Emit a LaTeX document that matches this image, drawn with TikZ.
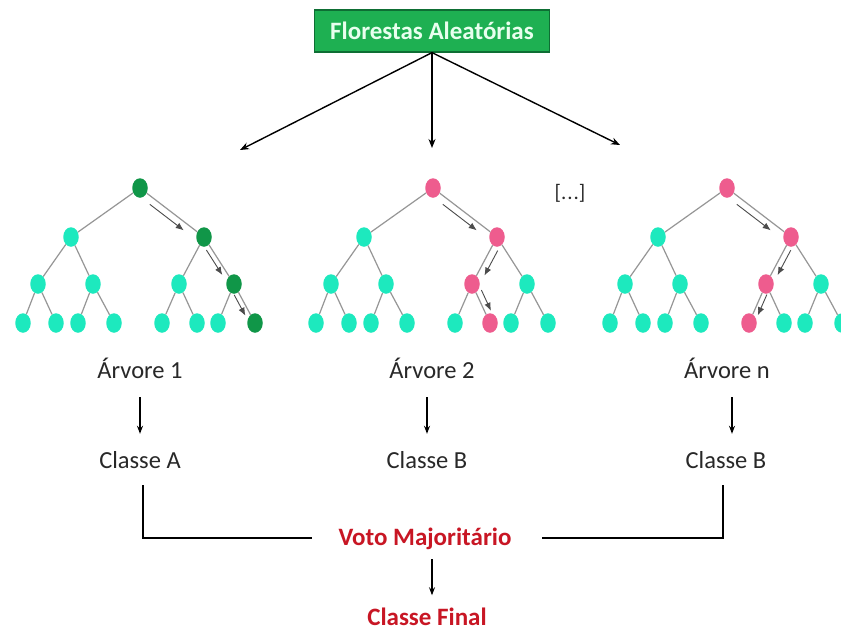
\documentclass[tikz,border=0pt]{standalone}
\usepackage{fontspec}
\setmainfont{Carlito}
\usetikzlibrary{shapes.geometric,arrows.meta,calc}
\definecolor{cy}{RGB}{29,233,190}
\definecolor{dg}{RGB}{16,150,72}
\definecolor{pk}{RGB}{238,92,142}
\definecolor{edgegray}{RGB}{150,150,150}
\definecolor{boxgreen}{RGB}{30,176,82}
\definecolor{boxborder}{RGB}{14,110,52}
\definecolor{vred}{RGB}{200,22,36}
\definecolor{txt}{RGB}{40,40,40}
\definecolor{titletxt}{RGB}{232,255,238}

\newcommand\rftree[5]{% #1 prefix, #2 root x, #3 path colour, #4 level-2 path node, #5 leaf path node
  \begin{scope}[xshift=#2pt, tk-r/.style={fill=#3}, tk-b/.style={fill=#3}, tk-#4/.style={fill=#3}, tk-#5/.style={fill=#3}]
    \foreach \n/\dx/\yy in {r/0/188,a/-69/237,b/64/237,c/-102/284,d/-47/284,e/39/284,f/94/284,
      g/-117/323,h/-84/323,i/-62/323,j/-26/323,k/22/323,l/57/323,m/78/323,n/115/323}
      \node[tn, tk-\n] (#1\n) at (\dx,\yy) {};
  \end{scope}
  \foreach \p/\q in {r/a,r/b,a/c,a/d,b/e,b/f,c/g,c/h,d/i,d/j,e/k,e/l,f/m,f/n}
    \draw[edge] (#1\p) -- (#1\q);
}
\newcommand\parr[4]{% from node, to node, side angle, offset
  \draw[patharrow] ($(#1)!0.22!(#2)!#4!#3:(#2)$) -- ($(#1)!0.75!(#2)!#4!#3:(#2)$);
}

\begin{document}
\begin{tikzpicture}[x=1pt,y=-1pt,
  tn/.style={ellipse, draw=none, fill=cy, minimum width=15.5pt, minimum height=19.5pt, inner sep=0pt},
  tk-r/.style={}, tk-a/.style={}, tk-b/.style={}, tk-c/.style={}, tk-d/.style={},
  tk-e/.style={}, tk-f/.style={}, tk-g/.style={}, tk-h/.style={}, tk-i/.style={},
  tk-j/.style={}, tk-k/.style={}, tk-l/.style={}, tk-m/.style={}, tk-n/.style={},
  edge/.style={draw=edgegray, line width=1.2pt},
  patharrow/.style={draw=black!70, line width=0.9pt, -{Latex[length=8pt,width=6.5pt]}},
  lab/.style={font=\fontsize{24.5}{28}\selectfont, text=txt, anchor=base, inner sep=0pt},
  vote/.style={font=\fontsize{25}{29}\selectfont\bfseries, text=vred, anchor=base, inner sep=0pt},
  titlebox/.style={draw=boxborder, line width=1.2pt, fill=boxgreen, text=titletxt,
    font=\fontsize{25}{29}\selectfont\bfseries, minimum width=235pt, minimum height=42pt, inner sep=0pt},
  mainarrow/.style={draw=black, line width=1.4pt, -{Stealth[length=9pt,width=7pt]}},
  downarrow/.style={draw=black, line width=1.2pt, -{Stealth[length=8pt,width=6pt]}},
  bracket/.style={draw=black, line width=2pt}
]
\fill[white] (0,0) rectangle (841,630);
\clip (0,0) rectangle (841,630);

% title and top arrows
\node[titlebox] (title) at (432,31) {Florestas Aleatórias};
\coordinate (e1) at (240,150);
\coordinate (e2) at (432,148);
\coordinate (e3) at (620,145);
\draw[mainarrow] (title.south) -- (e1);
\draw[mainarrow] (title.south) -- (e2);
\draw[mainarrow] (title.south) -- (e3);

% trees
\rftree{t1}{140}{dg}{f}{n}
\rftree{t2}{433}{pk}{e}{l}
\rftree{t3}{727}{pk}{e}{k}

\parr{t1r}{t1b}{-90}{7pt}
\parr{t1b}{t1f}{-90}{5pt}
\parr{t1f}{t1n}{-90}{5pt}
\parr{t2r}{t2b}{-90}{7pt}
\parr{t2b}{t2e}{90}{7pt}
\parr{t2e}{t2l}{90}{6pt}
\parr{t3r}{t3b}{-90}{7pt}
\parr{t3b}{t3e}{90}{6pt}
\parr{t3e}{t3k}{90}{5pt}

\node[lab, font=\fontsize{21}{24}\selectfont] (dots) at (570,199) {[.\kern1pt.\kern1pt.]};

% labels
\node[lab] (a1) at (140,378) {Árvore 1};
\node[lab] (a2) at (432,378) {Árvore 2};
\node[lab] (a3) at (727,378) {Árvore n};
\node[lab] (c1) at (140,468) {Classe A};
\node[lab] (c2) at (427,468) {Classe B};
\node[lab] (c3) at (726,468) {Classe B};

\draw[downarrow, shorten <=19pt, shorten >=17pt] (a1.south) -- (c1.north);
\draw[downarrow, shorten <=19pt, shorten >=17pt] (c2.north |- a2.south) -- (c2.north);
\draw[downarrow, shorten <=19pt, shorten >=17pt] ([xshift=6pt]c3.north |- a3.south) -- ([xshift=6pt]c3.north);

% majority vote
\node[vote] (vote) at (425,545) {Voto Majoritário};
\node[vote] (cf) at (427,625) {Classe Final};

\draw[bracket, shorten <=17pt, shorten >=26pt] ([xshift=3pt]c1.south) |- (vote.west);
\draw[bracket, shorten <=17pt, shorten >=30pt] ([xshift=-3pt]c3.south) |- (vote.east);
\draw[downarrow, shorten <=10pt, shorten >=12pt] ([xshift=7pt]vote.south) -- ([xshift=5pt]cf.north);
\end{tikzpicture}
\end{document}
